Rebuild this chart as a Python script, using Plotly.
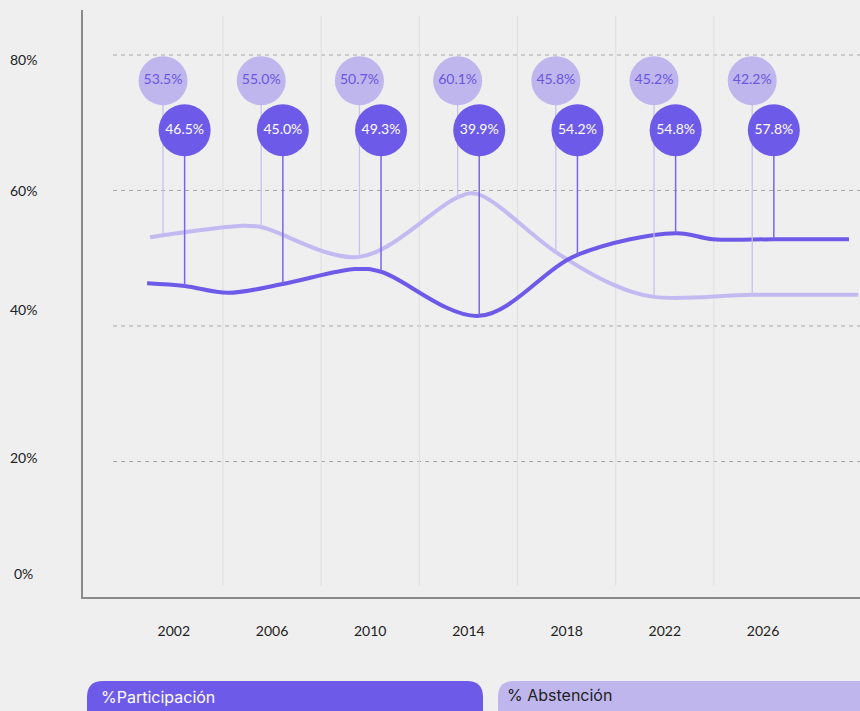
import plotly.graph_objects as go

# ---------------- data ----------------
years = [2002, 2006, 2010, 2014, 2018, 2022, 2026]
participacion = [46.5, 45.0, 49.3, 39.9, 54.2, 54.8, 57.8]
abstencion = [53.5, 55.0, 50.7, 60.1, 45.8, 45.2, 42.2]
y_ticks = [0, 20, 40, 60, 80]
y_tick_labels = ["0%", "20%", "40%", "60%", "80%"]

# height of the drawn trend lines where each pin meets them (%)
linea_part_pines = [45.9, 46.2, 48.0, 41.5, 50.5, 53.7, 52.8]
linea_abst_pines = [53.4, 54.6, 50.2, 59.0, 50.9, 44.3, 44.6]
# extra points of the drawn trend lines (fractional year, %)
linea_part_extra_x = [2000.91, 2004.21, 2009.38, 2023.96, 2029.50]
linea_part_extra_y = [46.3, 44.9, 48.4, 52.8, 52.8]
linea_abst_extra_x = [2001.03, 2004.82, 2014.35, 2019.78, 2029.88]
linea_abst_extra_y = [53.1, 54.8, 59.5, 46.3, 44.6]

# ---------------- style ----------------
BG = "#efefef"
DARK = "#6e5ae8"
LIGHT = "#bfb6ee"
PIN_OFF = 0.44          # years left/right of the category for the pins
ROW_ABST = 76.2         # label row (in %) of the light circles
ROW_PART = 68.9         # label row (in %) of the dark circles
FONT = "Lato"
W, H = 860, 711
ML, MR, MT, MB = 83, 0, 10, 114
PW, PH = W - ML - MR, H - MT - MB
X_RANGE = [1998.30, 2029.95]
Y_RANGE = [0, 86.64]

x_part = [y + PIN_OFF for y in years]
x_abst = [y - PIN_OFF for y in years]


def merge(xa, ya, xb, yb):
    pts = sorted(zip(list(xa) + list(xb), list(ya) + list(yb)))
    return [p[0] for p in pts], [p[1] for p in pts]


lp_x, lp_y = merge(x_part, linea_part_pines, linea_part_extra_x, linea_part_extra_y)
la_x, la_y = merge(x_abst, linea_abst_pines, linea_abst_extra_x, linea_abst_extra_y)


def pins(xs, top, bottoms):
    px, py = [], []
    for x, b in zip(xs, bottoms):
        px += [x, x, None]
        py += [top, b, None]
    return px, py


fig = go.Figure()

fig.add_trace(go.Scatter(x=la_x, y=la_y, mode="lines",
                         line=dict(color="#c3baf1", width=4, shape="spline", smoothing=1.0),
                         hoverinfo="skip", showlegend=False))
fig.add_trace(go.Scatter(x=lp_x, y=lp_y, mode="lines",
                         line=dict(color=DARK, width=4, shape="spline", smoothing=1.0),
                         hoverinfo="skip", showlegend=False))

pa_x, pa_y = pins(x_abst, ROW_ABST, linea_abst_pines)
fig.add_trace(go.Scatter(x=pa_x, y=pa_y, mode="lines",
                         line=dict(color="#c9c1f0", width=1.3),
                         hoverinfo="skip", showlegend=False))
pp_x, pp_y = pins(x_part, ROW_PART, linea_part_pines)
fig.add_trace(go.Scatter(x=pp_x, y=pp_y, mode="lines",
                         line=dict(color="#7a66ea", width=1.5),
                         hoverinfo="skip", showlegend=False))

fig.add_trace(go.Scatter(
    x=x_abst, y=[ROW_ABST] * len(years), mode="markers+text",
    marker=dict(size=49, color=LIGHT, line=dict(width=0)),
    text=[f"{v:.1f}%" for v in abstencion], textposition="middle center",
    textfont=dict(family=FONT, size=14, color="#6a55e2"),
    name="% Abstención", showlegend=False))
fig.add_trace(go.Scatter(
    x=x_part, y=[ROW_PART] * len(years), mode="markers+text",
    marker=dict(size=52, color=DARK, line=dict(width=0)),
    text=[f"{v:.1f}%" for v in participacion], textposition="middle center",
    textfont=dict(family=FONT, size=14, color="white"),
    name="%Participación", showlegend=False))

shapes = []
for v in y_ticks[1:]:
    shapes.append(dict(type="line", xref="paper", yref="y", x0=(113 - ML) / PW, x1=1,
                       y0=v, y1=v, line=dict(color="#a8a8a8", width=1, dash="4px,4px"),
                       layer="below"))
for y in years[:-1]:
    shapes.append(dict(type="line", xref="x", yref="paper", x0=y + 2, x1=y + 2,
                       y0=0.02, y1=0.99, line=dict(color="#dedede", width=1), layer="below"))


def X(px):
    return (px - ML) / PW


def Y(py):
    return (H - MB - py) / PH


def pill(x0, y0, x1, y1, r, color):
    path = (f"M {X(x0 + r)},{Y(y0)} L {X(x1 - r)},{Y(y0)} Q {X(x1)},{Y(y0)} {X(x1)},{Y(y0 + r)} "
            f"L {X(x1)},{Y(y1 - r)} Q {X(x1)},{Y(y1)} {X(x1 - r)},{Y(y1)} "
            f"L {X(x0 + r)},{Y(y1)} Q {X(x0)},{Y(y1)} {X(x0)},{Y(y1 - r)} "
            f"L {X(x0)},{Y(y0 + r)} Q {X(x0)},{Y(y0)} {X(x0 + r)},{Y(y0)} Z")
    return dict(type="path", xref="paper", yref="paper", path=path,
                fillcolor=color, line=dict(width=0), layer="above")


shapes.append(pill(87, 681, 483, 730, 16, DARK))
shapes.append(pill(498, 681, 920, 730, 16, LIGHT))

annotations = []
y_shifts = [24, 4.5, 16, 0, -5]
for v, t, s in zip(y_ticks, y_tick_labels, y_shifts):
    annotations.append(dict(xref="paper", yref="y", x=X(23), y=v, yshift=s, text=t,
                            showarrow=False, xanchor="center", yanchor="middle",
                            font=dict(family=FONT, size=14, color="#222222")))
annotations.append(dict(xref="paper", yref="paper", x=X(99), y=Y(697), text="%Participación",
                        showarrow=False, xanchor="left", yanchor="middle",
                        font=dict(family="Inter", size=16, color="white")))
annotations.append(dict(xref="paper", yref="paper", x=X(505), y=Y(695), text="% Abstención",
                        showarrow=False, xanchor="left", yanchor="middle",
                        font=dict(family="Inter", size=16, color="#222222")))

fig.update_layout(
    width=W, height=H, margin=dict(l=ML, r=MR, t=MT, b=MB),
    paper_bgcolor=BG, plot_bgcolor=BG, showlegend=False,
    shapes=shapes, annotations=annotations,
    xaxis=dict(range=X_RANGE, tickvals=years, ticktext=[str(y) for y in years],
               showgrid=False, zeroline=False, showline=True, linecolor="#8a8a8a",
               linewidth=2, ticks="", ticklabelstandoff=20,
               tickfont=dict(family=FONT, size=14, color="#222222")),
    yaxis=dict(range=Y_RANGE, showgrid=False, zeroline=False, showticklabels=False,
               showline=True, linecolor="#8a8a8a", linewidth=2, ticks=""),
)

fig.write_html("out.html", config={"displayModeBar": False},
               post_script="document.body.style.margin='0px';document.body.style.background='#efefef';")
